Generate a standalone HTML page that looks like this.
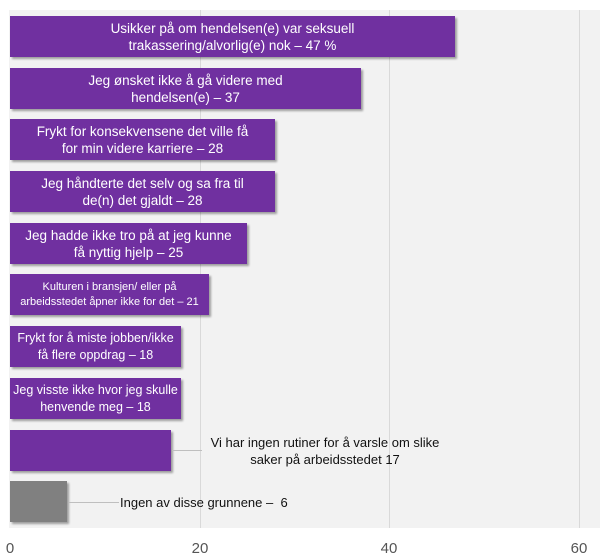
<!DOCTYPE html>
<html><head><meta charset="utf-8"><style>
body{margin:0;width:600px;height:560px;background:#fff;font-family:"Liberation Sans",sans-serif;position:relative;overflow:hidden}
.plot{position:absolute;left:9px;top:10px;width:591px;height:518px;background:#f2f2f2}
.g{position:absolute;top:10px;height:518px;width:1px;background:#d9d9d9}
.b{position:absolute;left:10px;height:41px;background:#7030a0;color:#fff;display:flex;align-items:center;justify-content:center;text-align:center;font-size:13.5px;line-height:17px;white-space:nowrap;box-shadow:2px 2px 2px rgba(0,0,0,.35)}
.t{position:absolute;top:540px;font-size:15px;color:#555;transform:translateX(-50%)}
.l{position:absolute;font-size:13px;color:#111;text-align:center;line-height:17px;white-space:nowrap}
.ln{position:absolute;height:1px;background:#bfbfbf}
</style></head><body>
<div class="plot"></div>
<div class="g" style="left:200px"></div><div class="g" style="left:389px"></div><div class="g" style="left:579px"></div>
<div class="b" style="top:16px;width:445px">Usikker på om hendelsen(e) var seksuell<br>trakassering/alvorlig(e) nok – 47 %</div>
<div class="b" style="top:68px;width:351px">Jeg ønsket ikke å gå videre med<br>hendelsen(e) – 37</div>
<div class="b" style="top:119px;width:265px">Frykt for konsekvensene det ville få<br>for min videre karriere – 28</div>
<div class="b" style="top:171px;width:265px">Jeg håndterte det selv og sa fra til<br>de(n) det gjaldt – 28</div>
<div class="b" style="top:223px;width:237px">Jeg hadde ikke tro på at jeg kunne<br>få nyttig hjelp – 25</div>
<div class="b" style="top:274px;width:199px;font-size:11px;line-height:15px">Kulturen i bransjen/ eller på<br>arbeidsstedet åpner ikke for det – 21</div>
<div class="b" style="top:326px;width:171px;font-size:12.5px">Frykt for å miste jobben/ikke<br>få flere oppdrag – 18</div>
<div class="b" style="top:378px;width:171px;font-size:12.5px">Jeg visste ikke hvor jeg skulle<br>henvende meg – 18</div>
<div class="b" style="top:430px;width:161px"></div>
<div class="b" style="top:481px;width:57px;background:#808080"></div>
<div class="ln" style="left:172px;top:450px;width:30px"></div>
<div class="l" style="left:205px;top:434px;width:240px">Vi har ingen rutiner for å varsle om slike<br>saker på arbeidsstedet 17</div>
<div class="ln" style="left:69px;top:502px;width:50px"></div>
<div class="l" style="left:120px;top:494px">Ingen av disse grunnene – &nbsp;6</div>
<div class="t" style="left:10px">0</div><div class="t" style="left:200px">20</div><div class="t" style="left:389px">40</div><div class="t" style="left:579px">60</div>
</body></html>
